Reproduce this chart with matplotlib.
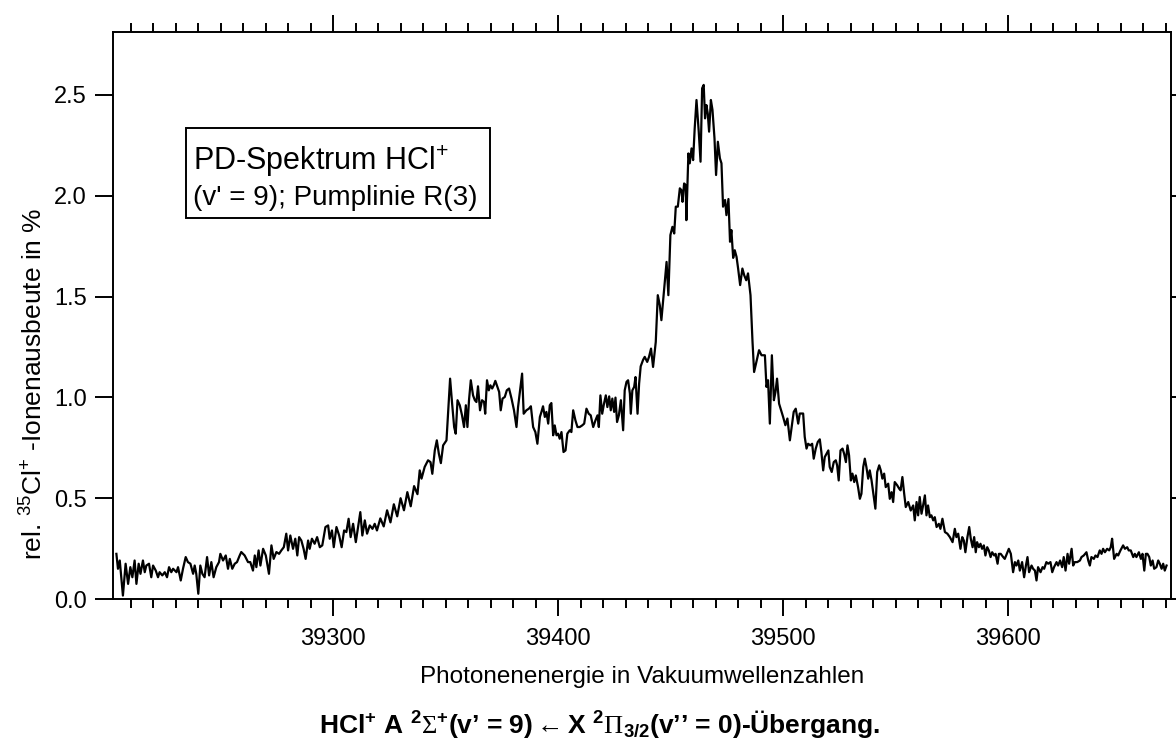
import matplotlib
matplotlib.use("Agg")
import matplotlib.pyplot as plt
from matplotlib.patches import Rectangle
from matplotlib.ticker import MultipleLocator, FormatStrFormatter

plt.rcParams['font.family'] = ['Liberation Sans', 'DejaVu Sans']
plt.rcParams['mathtext.fontset'] = 'custom'
plt.rcParams['mathtext.rm'] = 'Liberation Serif'
plt.rcParams['mathtext.sf'] = 'Liberation Sans'
plt.rcParams['mathtext.bf'] = 'Liberation Sans:bold'
plt.rcParams['mathtext.it'] = 'Liberation Sans:italic'

# photon energy (cm^-1) and relative 35Cl+ ion yield (%)
wavenumber = [
    39203.7, 39204.4, 39205.2, 39206.6, 39207.8, 39208.9, 39209.9, 39210.8, 39211.8, 39212.6,
    39213.6, 39214.4, 39215.5, 39216.3, 39217.0, 39218.2, 39219.2, 39220.0, 39221.2, 39222.2,
    39222.9, 39224.1, 39225.2, 39226.2, 39227.1, 39228.1, 39228.9, 39230.4, 39231.1, 39232.3,
    39233.3, 39234.5, 39235.5, 39236.6, 39237.8, 39238.5, 39239.2, 39240.1, 39241.0, 39241.9,
    39242.9, 39244.0, 39244.9, 39245.9, 39246.9, 39248.1, 39249.3, 39249.9, 39251.1, 39252.3,
    39253.3, 39254.1, 39255.2, 39256.3, 39257.3, 39258.5, 39259.2, 39260.7, 39262.2, 39263.2,
    39264.4, 39265.2, 39265.9, 39266.9, 39267.7, 39268.9, 39270.1, 39271.5, 39272.6, 39273.6,
    39274.8, 39276.0, 39277.0, 39278.1, 39279.2, 39280.0, 39281.0, 39282.2, 39283.2, 39284.1,
    39284.9, 39285.9, 39286.9, 39287.8, 39288.9, 39289.6, 39290.6, 39291.8, 39292.9, 39294.1,
    39295.2, 39296.6, 39297.8, 39298.5, 39299.5, 39300.3, 39301.5, 39302.7, 39303.8, 39304.9,
    39305.9, 39306.9, 39307.8, 39308.9, 39310.1, 39311.1, 39312.1, 39313.0, 39314.1, 39315.1,
    39316.3, 39317.5, 39318.5, 39319.5, 39321.0, 39322.5, 39324.0, 39325.5, 39327.0, 39328.5,
    39330.0, 39331.5, 39333.0, 39334.5, 39336.0, 39337.5,
    39338.5, 39339.3, 39340.7, 39342.2, 39343.3, 39344.1, 39345.2, 39346.1, 39347.0, 39347.9,
    39348.9, 39350.4, 39351.1, 39352.0, 39352.9, 39353.8, 39354.5, 39355.3, 39356.3, 39357.3,
    39358.2, 39359.0, 39359.7, 39360.4, 39361.2, 39362.2, 39363.0, 39363.7, 39364.4, 39365.3,
    39366.2, 39367.1, 39367.6, 39368.4, 39369.2, 39369.9, 39370.7, 39371.4, 39372.1, 39373.0,
    39373.8, 39374.5, 39375.3, 39376.3, 39377.2, 39378.2, 39379.3, 39380.4, 39381.5, 39382.2,
    39383.1, 39384.0, 39384.7, 39385.9, 39387.0, 39387.9, 39388.9, 39389.9, 39390.8, 39391.9,
    39392.6, 39393.3, 39394.1, 39394.8, 39395.6, 39396.3, 39397.0, 39397.8, 39398.5, 39399.3,
    39400.0, 39400.7, 39401.5, 39402.4, 39403.3, 39404.1, 39405.2, 39405.9, 39406.7, 39407.7,
    39408.6, 39409.6, 39410.7, 39411.6, 39412.6, 39413.6, 39414.5, 39415.6, 39416.6, 39417.5,
    39418.1, 39418.8, 39419.6, 39420.4, 39421.2, 39421.9, 39422.7, 39423.4, 39424.1, 39424.9,
    39425.5, 39426.2, 39427.0, 39427.9, 39428.9, 39429.6, 39430.4, 39431.1, 39431.9, 39432.3,
    39433.0, 39433.8, 39434.4, 39435.3, 39436.0, 39436.7, 39437.8,
    39438.5, 39439.6, 39440.4, 39441.3, 39442.2, 39443.4, 39444.3, 39445.2, 39445.9, 39447.0,
    39448.2, 39449.0, 39449.9, 39450.8, 39451.6, 39452.3, 39453.2, 39454.1, 39454.8, 39455.3,
    39456.0, 39456.7, 39457.0, 39457.9, 39458.5, 39459.3, 39460.0, 39460.7, 39461.5, 39462.5,
    39463.3, 39464.0, 39464.7, 39465.3, 39465.9, 39466.5, 39467.1, 39467.9, 39468.6, 39469.5,
    39470.2, 39471.0, 39471.9, 39472.6, 39473.3, 39474.2, 39474.8, 39475.7, 39476.4, 39477.0,
    39477.8, 39478.5, 39479.3, 39480.0, 39480.9, 39481.9, 39482.7, 39483.6, 39484.4, 39485.5,
    39485.9, 39486.4, 39487.1, 39488.1, 39489.3, 39490.4, 39491.9, 39492.6, 39493.3, 39494.1,
    39495.0, 39495.9, 39496.6, 39497.3, 39498.2, 39499.3, 39500.0, 39501.0, 39501.9, 39503.0,
    39503.7, 39504.7, 39505.6, 39506.7, 39507.4, 39508.9, 39509.6, 39510.4, 39511.1, 39512.1,
    39512.9, 39513.6, 39514.5, 39515.4, 39516.3, 39517.0, 39517.8, 39518.5, 39519.3, 39520.1,
    39520.7, 39521.6, 39522.5, 39523.4, 39524.0, 39524.7, 39525.5, 39526.4, 39527.1, 39527.9,
    39528.6, 39529.3, 39530.1, 39530.8, 39531.6, 39532.3, 39533.3, 39534.1, 39534.8, 39535.6,
    39536.3, 39537.0, 39537.8, 39538.5, 39539.3, 39540.0, 39541.0, 39541.8, 39542.7, 39543.4,
    39544.1, 39544.9, 39545.6, 39546.7, 39547.4, 39548.2, 39548.9, 39549.6, 39550.7, 39551.6,
    39552.2, 39553.0, 39553.8, 39554.5, 39555.6,
    39556.7, 39557.8, 39558.5, 39559.3, 39560.0, 39560.7, 39561.5, 39562.2, 39563.0, 39563.7,
    39564.4, 39565.2, 39565.9, 39566.7, 39567.4, 39568.2, 39569.2, 39569.9, 39570.8, 39571.9,
    39573.0, 39574.1, 39575.3, 39576.3, 39577.0, 39577.8, 39578.8, 39579.6, 39580.3, 39581.0,
    39581.9, 39582.7, 39583.4, 39584.2, 39584.9, 39585.6, 39586.2, 39587.0, 39587.7, 39588.4,
    39589.2, 39589.9, 39590.7, 39591.4, 39592.2, 39592.9, 39593.8, 39594.4, 39595.3, 39595.9,
    39596.7, 39597.8, 39598.5, 39599.4, 39600.3, 39601.2, 39602.2, 39603.0, 39603.7, 39604.5,
    39605.2, 39606.2, 39607.1, 39607.9, 39608.6, 39609.3, 39610.4, 39611.1, 39611.9, 39612.6,
    39613.3, 39614.4, 39615.3, 39616.0, 39617.0, 39617.8, 39618.8, 39619.6, 39620.4, 39621.5,
    39622.2, 39623.1, 39624.0, 39624.7, 39625.5, 39626.4, 39627.1, 39628.2, 39628.9, 39629.6,
    39630.7, 39631.9, 39632.6, 39633.6, 39634.8, 39635.6, 39636.3, 39637.0, 39638.1, 39638.8,
    39639.7, 39640.7, 39641.5, 39642.2, 39643.0, 39644.0, 39644.9, 39645.6, 39646.2, 39647.1,
    39648.2, 39648.9, 39649.9, 39651.1, 39651.9, 39652.9, 39653.6, 39654.5, 39655.6, 39656.3,
    39657.0, 39658.1, 39659.0, 39659.7, 39660.5, 39661.2, 39661.9, 39662.7, 39663.4, 39664.2,
    39664.9, 39665.9, 39666.7, 39667.4, 39668.2, 39668.9, 39669.6, 39670.4,
]
ion_yield = [
    0.224, 0.150, 0.191, 0.017, 0.175, 0.075, 0.158, 0.108, 0.191, 0.075,
    0.175, 0.125, 0.191, 0.133, 0.166, 0.175, 0.108, 0.166, 0.141, 0.108,
    0.133, 0.117, 0.133, 0.108, 0.158, 0.133, 0.150, 0.133, 0.158, 0.092,
    0.150, 0.208, 0.183, 0.175, 0.125, 0.166, 0.125, 0.026, 0.166, 0.125,
    0.108, 0.208, 0.117, 0.183, 0.108, 0.158, 0.183, 0.224, 0.191, 0.216,
    0.150, 0.199, 0.150, 0.175, 0.183, 0.216, 0.233, 0.216, 0.183, 0.183,
    0.141, 0.216, 0.158, 0.241, 0.166, 0.249, 0.216, 0.125, 0.266, 0.199,
    0.233, 0.224, 0.241, 0.257, 0.324, 0.241, 0.315, 0.249, 0.299, 0.216,
    0.307, 0.290, 0.249, 0.199, 0.290, 0.249, 0.299, 0.274, 0.307, 0.257,
    0.266, 0.357, 0.365, 0.299, 0.340, 0.257, 0.357, 0.315, 0.257, 0.340,
    0.332, 0.398, 0.307, 0.373, 0.282, 0.357, 0.431, 0.315, 0.390, 0.324,
    0.365, 0.348, 0.373, 0.340, 0.400, 0.360, 0.440, 0.380, 0.470, 0.410,
    0.500, 0.440, 0.530, 0.460, 0.560, 0.520,
    0.638, 0.597, 0.655, 0.688, 0.679, 0.621, 0.737, 0.787, 0.721, 0.674,
    0.762, 0.787, 0.919, 1.093, 0.969, 0.853, 0.820, 0.986, 0.961, 0.911,
    0.853, 0.961, 0.853, 0.986, 1.085, 1.010, 0.986, 0.977, 1.055, 0.936,
    0.986, 0.977, 0.919, 1.085, 1.035, 1.060, 1.044, 1.060, 1.082, 1.052,
    1.027, 0.936, 0.994, 1.002, 1.035, 1.044, 0.994, 0.936, 0.853, 0.952,
    1.035, 1.118, 0.919, 0.936, 0.944, 0.956, 0.853, 0.828, 0.770, 0.903,
    0.928, 0.956, 0.903, 0.928, 0.870, 0.961, 0.972, 0.812, 0.861, 0.812,
    0.820, 0.795, 0.828, 0.729, 0.737, 0.820, 0.837, 0.828, 0.936, 0.886,
    0.853, 0.853, 0.861, 0.870, 0.944, 0.919, 0.911, 0.853, 0.886, 0.911,
    0.853, 1.010, 0.919, 0.969, 1.010, 0.952, 1.005, 0.936, 0.994, 0.928,
    0.999, 0.878, 0.911, 0.986, 0.837, 1.035, 1.077, 1.085, 1.019, 0.919,
    1.035, 1.052, 1.101, 0.919, 1.068, 1.154, 1.187,
    1.201, 1.176, 1.201, 1.242, 1.151, 1.275, 1.507, 1.457, 1.383, 1.524,
    1.672, 1.507, 1.805, 1.846, 1.813, 1.946, 1.946, 2.037, 2.028, 1.970,
    2.061, 2.053, 1.879, 2.210, 2.161, 2.235, 2.177, 2.334, 2.475, 2.318,
    2.169, 2.533, 2.550, 2.384, 2.450, 2.409, 2.318, 2.475, 2.426, 2.285,
    2.103, 2.268, 2.186, 2.161, 1.946, 1.979, 1.904, 1.984, 1.772, 1.830,
    1.692, 1.730, 1.697, 1.639, 1.557, 1.639, 1.606, 1.581, 1.615, 1.507,
    1.408, 1.275, 1.126, 1.176, 1.234, 1.209, 1.209, 1.052, 1.085, 0.870,
    1.209, 0.986, 1.027, 1.093, 0.969, 0.928, 0.903, 0.862, 0.895, 0.787,
    0.845, 0.928, 0.944, 0.870, 0.920, 0.920, 0.804, 0.746, 0.770, 0.762,
    0.770, 0.696, 0.746, 0.779, 0.792, 0.729, 0.638, 0.704, 0.721, 0.737,
    0.655, 0.630, 0.679, 0.688, 0.663, 0.588, 0.737, 0.746, 0.721, 0.679,
    0.762, 0.713, 0.588, 0.622, 0.580, 0.613, 0.555, 0.497, 0.522, 0.655,
    0.696, 0.655, 0.597, 0.638, 0.588, 0.530, 0.448, 0.630, 0.663, 0.638,
    0.597, 0.622, 0.555, 0.572, 0.497, 0.530, 0.481, 0.580, 0.564, 0.547,
    0.539, 0.605, 0.522, 0.456, 0.481,
    0.439, 0.464, 0.390, 0.481, 0.415, 0.506, 0.423, 0.464, 0.514, 0.415,
    0.464, 0.406, 0.415, 0.390, 0.406, 0.357, 0.373, 0.348, 0.398, 0.332,
    0.324, 0.307, 0.282, 0.348, 0.307, 0.324, 0.249, 0.307, 0.290, 0.232,
    0.307, 0.357, 0.299, 0.257, 0.307, 0.232, 0.282, 0.257, 0.274, 0.249,
    0.266, 0.216, 0.257, 0.241, 0.208, 0.232, 0.216, 0.224, 0.175, 0.224,
    0.224, 0.208, 0.199, 0.224, 0.249, 0.224, 0.133, 0.183, 0.166, 0.191,
    0.141, 0.183, 0.108, 0.166, 0.208, 0.133, 0.166, 0.150, 0.141, 0.092,
    0.158, 0.133, 0.158, 0.150, 0.183, 0.175, 0.183, 0.133, 0.158, 0.183,
    0.166, 0.191, 0.158, 0.208, 0.141, 0.224, 0.175, 0.249, 0.166, 0.183,
    0.183, 0.191, 0.208, 0.216, 0.232, 0.191, 0.166, 0.208, 0.199, 0.216,
    0.208, 0.241, 0.224, 0.249, 0.232, 0.249, 0.241, 0.257, 0.299, 0.199,
    0.224, 0.216, 0.241, 0.266, 0.249, 0.257, 0.241, 0.241, 0.208, 0.224,
    0.208, 0.232, 0.199, 0.224, 0.141, 0.224, 0.224, 0.208, 0.166, 0.191,
    0.150, 0.158, 0.191, 0.175, 0.150, 0.175, 0.141, 0.166,
]

x_limits = (39202.2, 39672.4)
y_limits = (0.0, 2.81)

fig = plt.figure(figsize=(11.76, 7.43), dpi=100)
ax = fig.add_axes([0.0961, 0.1938, 0.8997, 0.7625])

ax.plot(wavenumber, ion_yield, color='black', linewidth=1.6)
ax.set_xlim(*x_limits)
ax.set_ylim(*y_limits)

# Igor-style axes: outward ticks on all four sides
for side in ['left', 'right', 'top', 'bottom']:
    ax.spines[side].set_linewidth(1.4)
ax.xaxis.set_major_locator(MultipleLocator(100))
ax.xaxis.set_minor_locator(MultipleLocator(10))
ax.yaxis.set_major_locator(MultipleLocator(0.5))
ax.yaxis.set_major_formatter(FormatStrFormatter('%.1f'))
ax.tick_params(axis='x', which='major', direction='out', length=12, width=1.4,
               top=True, labeltop=False, pad=9, labelsize=17)
ax.tick_params(axis='x', which='minor', direction='out', length=6.5, width=1.4, top=True)
ax.tick_params(axis='y', which='major', direction='out', length=13, width=1.4,
               right=True, labelright=False, pad=6, labelsize=17)

# annotation box
ax.add_patch(Rectangle((0.069, 0.6725), 0.287, 0.159, transform=ax.transAxes,
                       fill=False, edgecolor='black', linewidth=1.4))
ax.text(0.0756, 0.757, r"PD-Spektrum HCl$^{\mathsf{+}}$", transform=ax.transAxes,
        fontsize=22, ha='left', va='baseline')
ax.text(0.0756, 0.695, "(v' = 9); Pumplinie R(3)", transform=ax.transAxes,
        fontsize=20, ha='left', va='baseline')

fig.text(34 / 1176, 1 - 560 / 743, r"rel. $^{\mathsf{35}}$Cl$^{\mathsf{+}}$ -Ionenausbeute in %",
         rotation=90, rotation_mode='anchor', ha='left', va='center', fontsize=19)
fig.text(642 / 1176, 1 - 683 / 743, "Photonenenergie in Vakuumwellenzahlen",
         ha='center', va='baseline', fontsize=17.5)
fig.text(600 / 1176, 1 - 733 / 743,
         r"HCl$^{\mathbf{+}}$ A $^{\mathbf{2}}\Sigma^{\mathbf{+}}$(v’ = 9)$\leftarrow$"
         r"X $^{\mathbf{2}}\Pi_{\mathbf{3/2}}$(v’’ = 0)-Übergang.",
         ha='center', va='baseline', fontsize=19, fontweight='bold')

fig.savefig('out.png', dpi=100)
